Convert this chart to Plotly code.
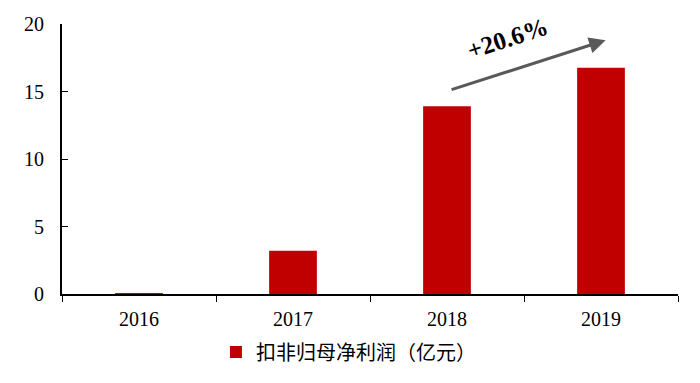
import plotly.graph_objects as go

years = ["2016", "2017", "2018", "2019"]
profit = [0.06, 3.2, 13.9, 16.76]
series_name = "扣非归母净利润（亿元）"
growth_label = "+20.6%"

fig = go.Figure()
fig.add_trace(go.Bar(
    x=years, y=profit, name=series_name,
    marker=dict(color="#C00000", line=dict(width=0)),
    width=0.31,
    showlegend=True,
))

fig.add_annotation(
    x=3.03, y=18.8, ax=2.02, ay=15.1,
    xref="x", yref="y", axref="x", ayref="y",
    text="", showarrow=True, arrowhead=2, arrowsize=1.1, arrowwidth=3,
    arrowcolor="#595959",
)
fig.add_annotation(
    x=2.39, y=18.95, xref="x", yref="y",
    text="<b>" + growth_label + "</b>", showarrow=False, textangle=-18,
    font=dict(family="Liberation Serif", size=25, color="black"),
)

fig.update_layout(
    width=700, height=383,
    margin=dict(l=54, r=30, t=16, b=97, autoexpand=False),
    paper_bgcolor="white", plot_bgcolor="white",
    font=dict(family="Liberation Serif", size=20, color="black"),
    legend=dict(
        orientation="h", x=0.465, xanchor="center",
        yref="container", y=0.102, yanchor="middle",
        font=dict(family="Noto Sans CJK SC", size=20, color="black"),
        itemwidth=30,
    ),
    xaxis=dict(
        showline=True, linecolor="black", linewidth=2,
        ticks="outside", tickson="boundaries", ticklen=6, tickcolor="black",
        showgrid=False, tickfont=dict(size=20), automargin=False,
        ticklabelstandoff=6,
    ),
    yaxis=dict(
        range=[0, 20], dtick=5,
        showline=True, linecolor="black", linewidth=2,
        ticks="inside", ticklen=6, tickcolor="black",
        showgrid=False, zeroline=False, tickfont=dict(size=20), automargin=False,
        ticklabelstandoff=12,
    ),
)

fig.write_html("out.html")
